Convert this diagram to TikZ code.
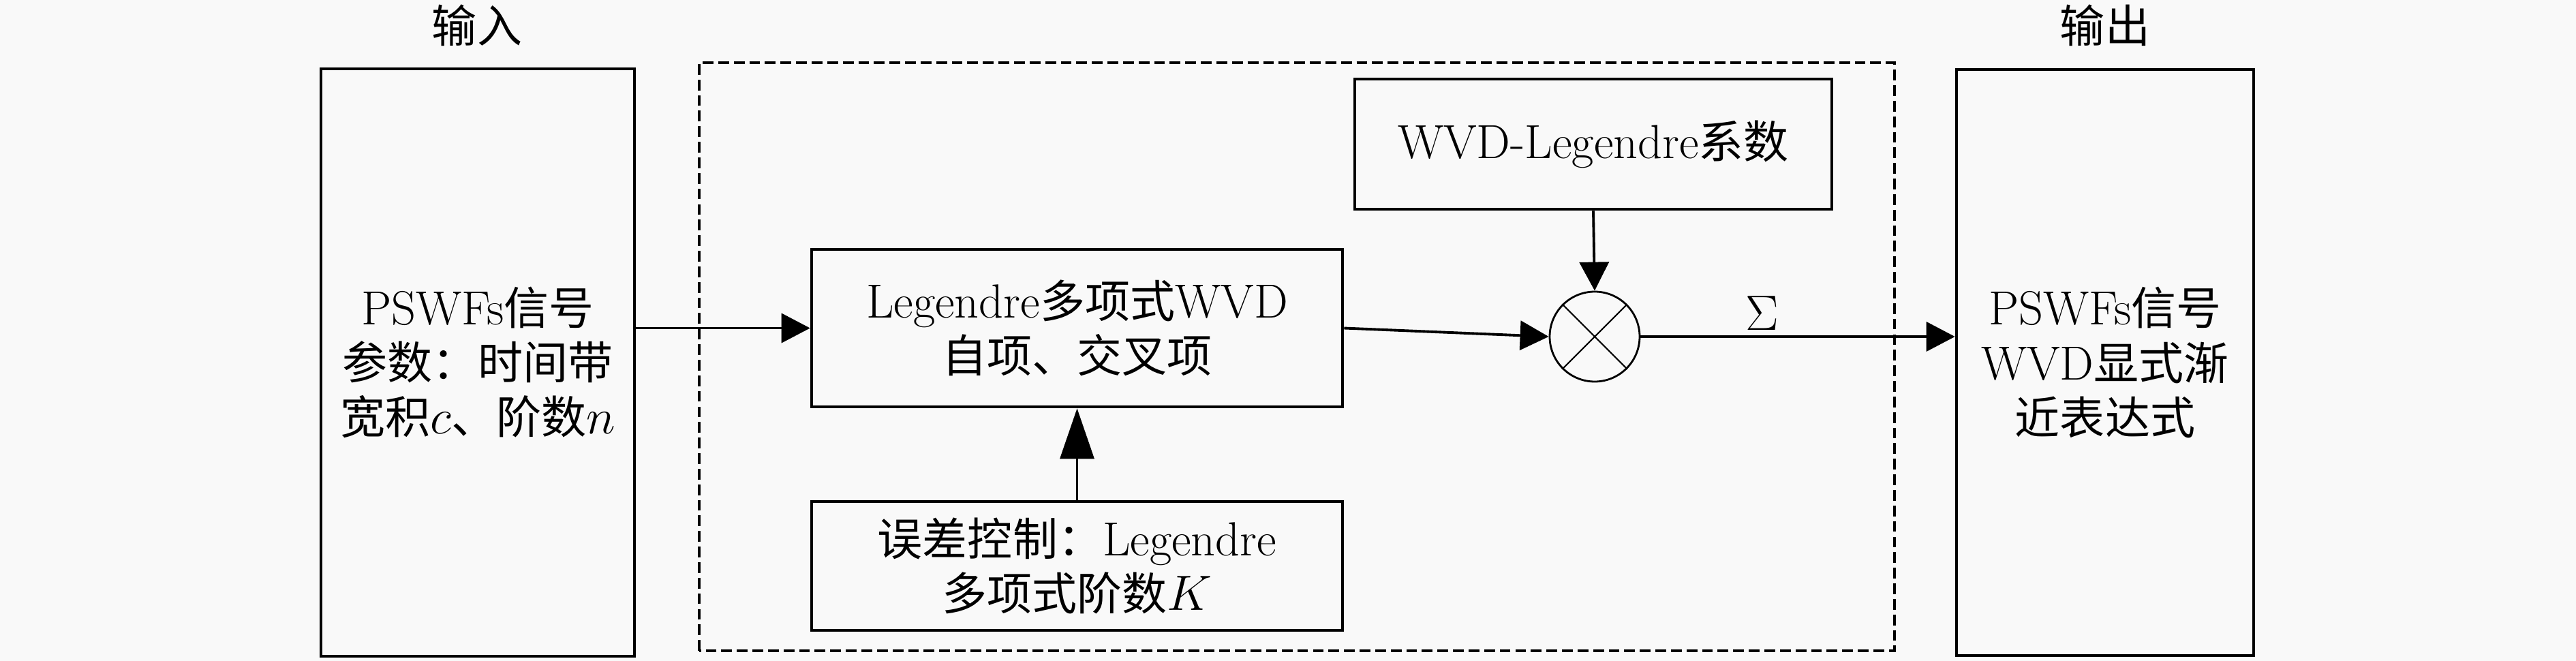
\documentclass[tikz,border=0pt]{standalone}
\usepackage{fontspec}
\usepackage{amsmath}
\usepackage{xcolor}
\usetikzlibrary{arrows.meta}
\newfontfamily\cjk[Scale=0.94]{Noto Sans CJK SC}
\newcommand{\zh}[1]{{\cjk #1}}
\newcommand{\boxfont}{\fontsize{20pt}{22.8pt}\selectfont}
\definecolor{paper}{RGB}{249,249,249}

\begin{document}
\begin{tikzpicture}
		\tikzset{> = {Triangle[length=0.42cm,width=0.43cm]},
			box/.style = {draw, line width = 1.3pt, align = center, inner sep = 0pt, font = \boxfont},
			link/.style = {->, line width = 1.1pt}}
		\useasboundingbox (0,0) rectangle (37.8,9.69);
		\filldraw[fill = paper, paper, line width = 0pt] (0,0) rectangle (37.8,9.69);
		\draw[line width = 1.2pt, dash pattern = on 4.5pt off 2pt] (10.26,0.14) rectangle (27.8,8.77);
		\node[box, minimum width = 4.6cm, minimum height = 8.62cm] (in) at (7.01,4.37)
			{PSWFs\zh{信号}\\\zh{参数：时间带}\\\zh{宽积}$c$\zh{、阶数}$n$};
		\node[box, minimum width = 7.79cm, minimum height = 2.31cm] (leg) at (15.805,4.875)
			{Legendre\zh{多项式}WVD\\\zh{自项、交叉项}};
		\node[box, minimum width = 7.79cm, minimum height = 1.89cm] (err) at (15.805,1.385)
			{\zh{误差控制：}Legendre\\\zh{多项式阶数}$K$};
		\node[box, minimum width = 7.0cm, minimum height = 1.91cm] (coef) at (23.38,7.575)
			{WVD-Legendre\zh{系数}};
		\node[draw, circle, line width = 0.8pt, minimum size = 1.32cm, inner sep = 0pt] (mul) at (23.4,4.75){};
		\node[box, minimum width = 4.36cm, minimum height = 8.6cm] (out) at (30.89,4.37)
			{PSWFs\zh{信号}\\WVD\zh{显式渐}\\\zh{近表达式}};
		\node[font = \boxfont] (inlabel) at (7.0,9.32){\zh{输入}};
		\node[font = \boxfont] (outlabel) at (30.89,9.32){\zh{输出}};
		\node[font = \boxfont] (sum) at (25.86,5.09){$\Sigma$};
		\draw[line width = 0.6pt] (mul.north west) -- (mul.south east);
		\draw[line width = 0.6pt] (mul.north east) -- (mul.south west);
		\draw[link] (in.east |- leg.west) -- (leg.west);
		\draw[link] (leg.east) -- (mul.west);
		\draw[link] (coef.south) -- (mul.north);
		\draw[link] (mul.east) -- (mul.east -| out.west);
		\draw[line width = 0.9pt, -{Triangle[length=0.74cm,width=0.5cm]}] (err.north) -- (leg.south);
	\end{tikzpicture}
\end{document}
